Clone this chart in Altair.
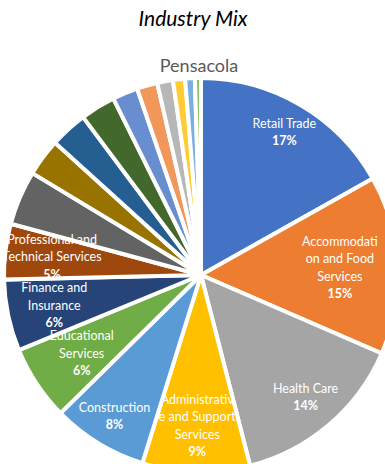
import altair as alt
import pandas as pd

industries = [
    "Retail Trade", "Accommodation and Food Services", "Health Care",
    "Administrative and Support Services", "Construction", "Educational Services",
    "Finance and Insurance", "Professional and Technical Services",
    "Other 1", "Other 2", "Other 3", "Other 4", "Other 5",
    "Other 6", "Other 7", "Other 8", "Other 9", "Other 10",
]
shares = [17.0, 14.8, 14.6, 8.9, 7.9, 6.2, 5.9, 4.6,
          4.5, 3.1, 3.1, 2.9, 2.1, 1.7, 1.3, 1.0, 0.8, 0.5]
name_lines = [
    ["Retail Trade"], ["Accommodati", "on and Food", "Services"], ["Health Care"],
    ["Administrativ", "e and Support", "Services"], ["Construction"],
    ["Educational", "Services"], ["Finance and", "Insurance"],
    ["Professional and", "Technical Services"],
    [], [], [], [], [], [], [], [], [], [],
]
pct_labels = ["17%", "15%", "14%", "9%", "8%", "6%", "6%", "5%",
              "", "", "", "", "", "", "", "", "", ""]
colors = ["#4472C4", "#ED7D31", "#A5A5A5", "#FFC000", "#5B9BD5", "#70AD47",
          "#264478", "#9E480E", "#636363", "#997300", "#255E91", "#43682B",
          "#698ED0", "#F1975A", "#B7B7B7", "#FFCD33", "#7CAFDD", "#8CC168"]

# layout: distance of each label block from the pie centre (px)
label_radius = [165, 139, 161, 151, 166, 143, 150, 150,
                0, 0, 0, 0, 0, 0, 0, 0, 0, 0]

lines_col, bold_col = [], []
for nl, p in zip(name_lines, pct_labels):
    if nl:
        lines_col.append(nl + [p])
        bold_col.append([0] * len(nl) + [1])
    else:
        lines_col.append([])
        bold_col.append([])

df = pd.DataFrame({
    "idx": list(range(len(industries))),
    "name": industries,
    "share": shares,
    "lines": lines_col,
    "bold": bold_col,
    "lr": label_radius,
})

CX, CY, R = 201, 275, 197
LH = 17.5
FONT = "Lato"

pie = alt.Chart(df).mark_arc(radius=R, x=CX, y=CY, stroke="white", strokeWidth=4).encode(
    theta=alt.Theta("share:Q", stack=True),
    order=alt.Order("idx:Q"),
    color=alt.Color("name:N", scale=alt.Scale(domain=industries, range=colors), legend=None),
)

labels_base = alt.Chart(df).transform_window(
    cum="sum(share)", sort=[alt.SortField("idx")]
).transform_joinaggregate(
    total="sum(share)"
).transform_calculate(
    mid="(datum.cum - datum.share / 2) / datum.total * 2 * PI"
).transform_flatten(
    ["lines", "bold"]
).transform_window(
    line="row_number()", groupby=["name"]
).transform_joinaggregate(
    n="count()", groupby=["name"]
).transform_calculate(
    px=f"{CX} + datum.lr * sin(datum.mid)",
    py=f"{CY} - datum.lr * cos(datum.mid) + (datum.line - 1 - (datum.n - 1) / 2) * {LH}",
).encode(
    x=alt.X("px:Q", scale=None),
    y=alt.Y("py:Q", scale=None),
    text="lines:N",
)

names = labels_base.transform_filter("datum.bold == 0").mark_text(
    color="white", font=FONT, fontSize=12.5, align="center", baseline="middle"
)
pcts = labels_base.transform_filter("datum.bold == 1").mark_text(
    color="white", font=FONT, fontSize=12.5, fontWeight="bold", align="center", baseline="middle"
)

title = alt.Chart(pd.DataFrame({"t": ["Industry Mix"]})).mark_text(
    x=193, y=20, font=FONT, fontSize=21, fontStyle="italic", color="#000000",
    align="center", baseline="middle"
).encode(text="t:N")

subtitle = alt.Chart(pd.DataFrame({"t": ["Pensacola"]})).mark_text(
    x=199, y=67, font=FONT, fontSize=18, color="#595959", align="center", baseline="middle"
).encode(text="t:N")

chart = alt.layer(pie, names, pcts, title, subtitle).properties(
    width=385, height=464, autosize=alt.AutoSizeParams(type="none"), padding=0
).configure_view(stroke=None)

chart.save("out.html", embed_options={"renderer": "svg", "actions": False})
